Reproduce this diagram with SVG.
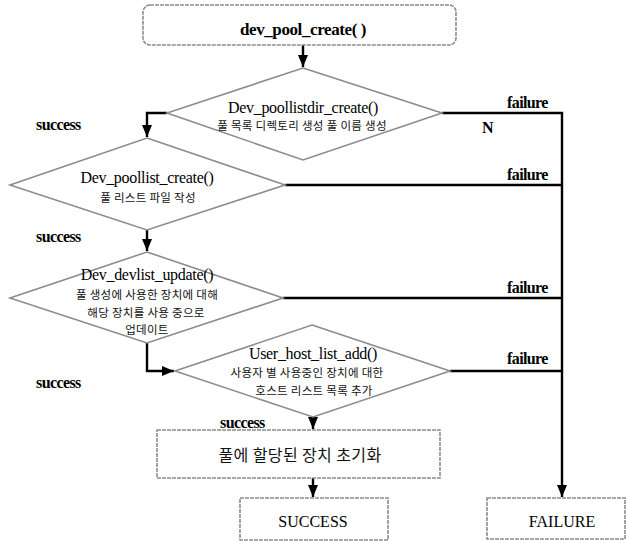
<svg xmlns="http://www.w3.org/2000/svg" width="626" height="541" viewBox="0 0 626 541">
<style>
.box{fill:#fff;stroke:#8c8c8c;stroke-width:1.6;stroke-dasharray:4 1}
.dia{fill:#fff;stroke:#8c8c8c;stroke-width:1.6}
.con{fill:none;stroke:#000;stroke-width:2.4}
.t{font-family:"Liberation Serif","Times New Roman",serif;fill:#000;text-anchor:middle}
.k{font-family:"Noto Sans CJK KR","Noto Sans",sans-serif;fill:#111;text-anchor:middle;font-size:11.5px;letter-spacing:0.3px}
.lb{font-family:"Liberation Serif","Times New Roman",serif;font-weight:bold;font-size:16px;fill:#000;letter-spacing:-0.6px}
</style>
<defs>
<marker id="ah" markerUnits="userSpaceOnUse" markerWidth="12" markerHeight="12" viewBox="0 0 12 12" refX="12" refY="6" orient="auto">
<path d="M0,1 L12,6 L0,11 Z" fill="#000"/>
</marker>
</defs>
<rect width="626" height="541" fill="#fff"/>

<g id="connectors">
<path class="con" d="M303,45 V67" marker-end="url(#ah)"/>
<path class="con" d="M167,113 H147 V137" marker-end="url(#ah)"/>
<path class="con" d="M147,230 V251" marker-end="url(#ah)"/>
<path class="con" d="M147,343 V371 H174" marker-end="url(#ah)"/>
<path class="con" d="M313,417 V429" marker-end="url(#ah)"/>
<path class="con" d="M313,478 V497" marker-end="url(#ah)"/>
<path class="con" d="M442,113 H562 V497" marker-end="url(#ah)"/>
<path class="con" d="M285,185 H562"/>
<path class="con" d="M283,298 H562"/>
<path class="con" d="M450,371 H562"/>
</g>

<g id="start">
<rect class="box" x="143" y="5" width="313" height="40" rx="7"/>
<text class="t" x="303" y="35" font-size="17" font-weight="bold" letter-spacing="-0.4">dev_pool_create( )</text>
</g>

<g id="d1">
<polygon class="dia" points="303,68 442,113 303,160 167,113"/>
<text class="t" x="303" y="113" font-size="16" letter-spacing="-0.3">Dev_poollistdir_create()</text>
<text class="k" x="302" y="130">풀 목록 디렉토리 생성 풀 이름 생성</text>
</g>

<g id="d2">
<polygon class="dia" points="147,138 285,185 147,230 10,185"/>
<text class="t" x="147" y="183" font-size="16" letter-spacing="-0.3">Dev_poollist_create()</text>
<text class="k" x="148" y="202">풀 리스트 파일 작성</text>
</g>

<g id="d3">
<polygon class="dia" points="147,252 283,298 147,343 10,298"/>
<text class="t" x="147" y="280" font-size="16" letter-spacing="-0.3">Dev_devlist_update()</text>
<text class="k" x="147" y="299">풀 생성에 사용한 장치에 대해</text>
<text class="k" x="146" y="316.5">해당 장치를 사용 중으로</text>
<text class="k" x="147" y="334">업데이트</text>
</g>

<g id="d4">
<polygon class="dia" points="312,325 450,371 313,417 175,371"/>
<text class="t" x="313" y="359" font-size="16" letter-spacing="-0.3">User_host_list_add()</text>
<text class="k" x="307" y="377">사용자 별 사용중인 장치에 대한</text>
<text class="k" x="314" y="394.5">호스트 리스트 목록 추가</text>
</g>

<g id="init">
<rect class="box" x="157" y="430" width="283" height="48"/>
<text class="k" x="300" y="461" style="font-size:16px;letter-spacing:0.4px">풀에 할당된 장치 초기화</text>
</g>

<g id="success">
<rect class="box" x="240" y="498" width="148" height="42"/>
<text class="t" x="313" y="527" font-size="16">SUCCESS</text>
</g>

<g id="failure">
<rect class="box" x="487" y="498" width="138" height="41"/>
<text class="t" x="562" y="527" font-size="16">FAILURE</text>
</g>

<g id="labels">
<text class="lb" x="36" y="130">success</text>
<text class="lb" x="36" y="242">success</text>
<text class="lb" x="36" y="388">success</text>
<text class="lb" x="220" y="428">success</text>
<text class="lb" x="507" y="108">failure</text>
<text class="lb" x="482" y="133">N</text>
<text class="lb" x="507" y="180">failure</text>
<text class="lb" x="507" y="293">failure</text>
<text class="lb" x="507" y="364">failure</text>
</g>
</svg>
